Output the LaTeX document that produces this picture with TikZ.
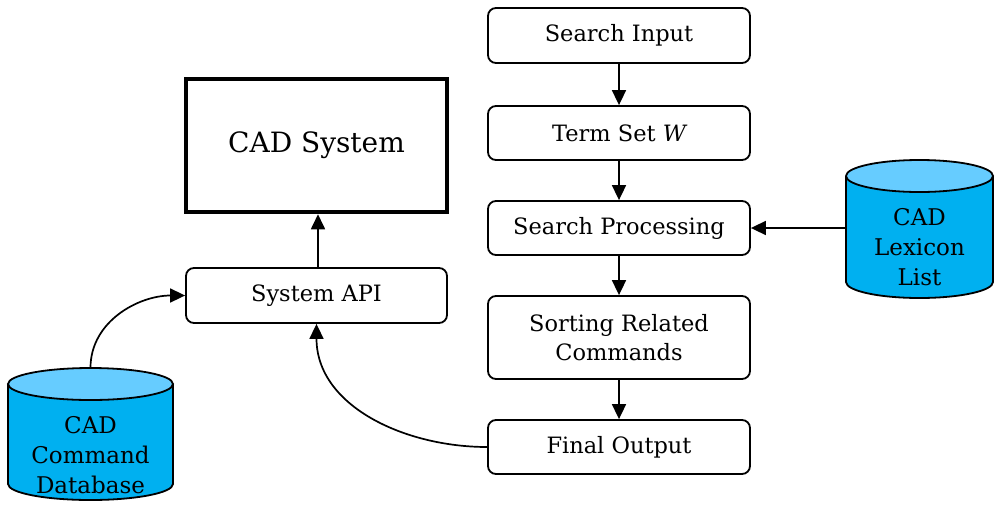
\documentclass[tikz,border=0pt]{standalone}
\usepackage{fontspec}
\setmainfont{DejaVu Serif}
\usetikzlibrary{arrows.meta}
\definecolor{cylbody}{RGB}{0,176,240}
\definecolor{cyltop}{RGB}{102,204,255}
\begin{document}
\begin{tikzpicture}[x=1pt,y=-1pt,
  box/.style={draw, line width=1.8pt, rounded corners=8pt, minimum width=262pt, inner sep=0pt, align=center, font=\fontsize{22.5}{29}\selectfont},
  conn/.style={line width=1.7pt, -{Triangle[length=15pt,width=14pt]}},
  cyltext/.style={inner sep=0pt, align=center, font=\fontsize{23}{30}\selectfont},
  cylline/.style={line width=1.8pt}]
\useasboundingbox (0,0) rectangle (995,509);
% flow boxes
\node[box, minimum height=55pt] (in) at (619,35.5) {Search Input};
\node[box, minimum height=54pt] (tw) at (619,133) {Term Set {\itshape W}};
\node[box, minimum height=54pt] (sp) at (619,228) {Search Processing};
\node[box, minimum height=83pt] (sr) at (619,337.5) {Sorting Related\\Commands};
\node[box, minimum height=54pt] (fo) at (619,447) {Final Output};
\node[draw, line width=4.5pt, minimum width=261pt, minimum height=133pt, inner sep=0pt, font=\fontsize{28}{32}\selectfont] (cad) at (316.5,145.5) {CAD System};
\node[box, minimum width=261pt, minimum height=55pt] (api) at (316.5,295.5) {System API};
% cylinder: command database
\fill[cylbody] (8,384) -- (8,484) arc[start angle=180,end angle=0,x radius=82.5,y radius=16] -- (173,384) -- cycle;
\draw[cylline] (8,384) -- (8,484) arc[start angle=180,end angle=0,x radius=82.5,y radius=16] -- (173,384);
\draw[cylline, fill=cyltop] (90.5,384) ellipse[x radius=82.5, y radius=16];
\node[cyltext] (dbt) at (90.5,455) {CAD\\Command\\Database};
\node[minimum width=165pt, minimum height=132pt, inner sep=0pt] (db) at (90.5,434) {};
% cylinder: lexicon list
\fill[cylbody] (846,176) -- (846,282) arc[start angle=180,end angle=0,x radius=73.5,y radius=16] -- (993,176) -- cycle;
\draw[cylline] (846,176) -- (846,282) arc[start angle=180,end angle=0,x radius=73.5,y radius=16] -- (993,176);
\draw[cylline, fill=cyltop] (919.5,176) ellipse[x radius=73.5, y radius=16];
\node[cyltext] (lxt) at (919.5,247) {CAD\\Lexicon\\List};
\node[minimum width=147pt, minimum height=136pt, inner sep=0pt] (lx) at (919.5,228) {};
% connectors
\draw[conn] (in) -- (tw);
\draw[conn] (tw) -- (sp);
\draw[conn] (sp) -- (sr);
\draw[conn] (sr) -- (fo);
\draw[conn] (lx.west) -- (sp.east);
\draw[conn] (api.north -| 318,0) -- (cad.south -| 318,0);
\draw[conn] (db.north) to[out=90,in=180] (api.west);
\draw[conn] (fo.west) to[out=180,in=-90] (api.south);
\end{tikzpicture}
\end{document}
